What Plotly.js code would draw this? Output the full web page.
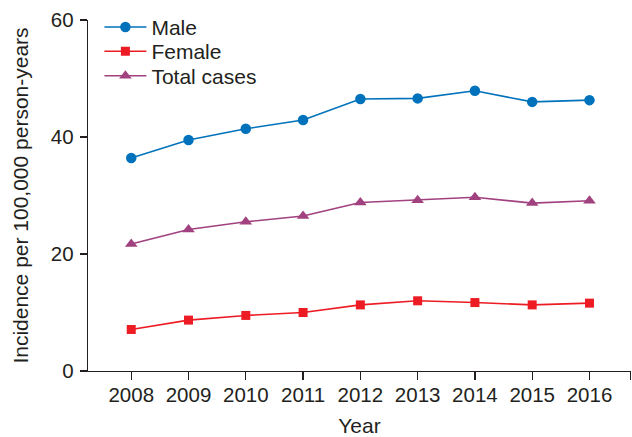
<!DOCTYPE html>
<html>
<head>
<meta charset="utf-8">
<script src="https://cdn.plot.ly/plotly-3.0.1.min.js"></script>
<style>
  html, body { margin: 0; padding: 0; background: #fff; }
  #chart { width: 632px; height: 437px; }
</style>
</head>
<body>
<div id="chart"></div>
<script>
// Incidence per 100,000 person-years by year and sex
const years = [2008, 2009, 2010, 2011, 2012, 2013, 2014, 2015, 2016];
const yearLabels = ['2008', '2009', '2010', '2011', '2012', '2013', '2014', '2015', '2016'];
const male = [36.4, 39.5, 41.4, 42.9, 46.5, 46.6, 47.9, 46.0, 46.3];
const female = [7.1, 8.7, 9.5, 10.0, 11.3, 12.0, 11.7, 11.3, 11.6];
const total = [21.7, 24.2, 25.5, 26.5, 28.8, 29.2, 29.7, 28.7, 29.1];
const seriesNames = ['Male', 'Female', 'Total cases'];
const yTicks = [0, 20, 40, 60];

const ink = '#231F20';
const family = 'Liberation Sans, Arial, sans-serif';
const tickFont = { family: family, size: 20.5, color: ink };
const titleFont = { family: family, size: 21, color: ink };
const legendFont = { family: family, size: 21, color: ink };

const traces = [
  { x: years, y: male, name: seriesNames[0], legend: 'legend', type: 'scatter', mode: 'lines+markers',
    line: { color: '#0072BC', width: 1.6 },
    marker: { symbol: 'circle', size: 10.5, color: '#0072BC' } },
  { x: years, y: female, name: seriesNames[1], legend: 'legend2', type: 'scatter', mode: 'lines+markers',
    line: { color: '#ED1C24', width: 1.6 },
    marker: { symbol: 'square', size: 9, color: '#ED1C24' } },
  { x: years, y: total, name: seriesNames[2], legend: 'legend3', type: 'scatter', mode: 'lines+markers',
    line: { color: '#A1417F', width: 1.6 },
    marker: { symbol: 'triangle-up', size: 11, color: '#A1417F' } }
];

// one legend box per series so the rows sit close together
function legendAt(yCenter) {
  return {
    x: 0.021, xanchor: 'left',
    y: yCenter, yanchor: 'middle',
    bgcolor: 'rgba(0,0,0,0)',
    font: legendFont,
    itemwidth: 42
  };
}

// extra tick closing the right end of the year axis
const xEnd = 2016.72;

const layout = {
  width: 632,
  height: 437,
  margin: { l: 88, r: 1, t: 20, b: 66 },
  paper_bgcolor: '#fff',
  plot_bgcolor: '#fff',
  font: tickFont,
  showlegend: true,
  legend: legendAt(0.979),
  legend2: legendAt(0.910),
  legend3: legendAt(0.840),
  xaxis: {
    range: [2007.245, 2016.725],
    tickmode: 'array',
    tickvals: years.concat([xEnd]),
    ticktext: yearLabels.concat(['']),
    showgrid: false,
    zeroline: false,
    showline: true,
    linecolor: ink,
    linewidth: 1.3,
    ticks: 'outside',
    ticklen: 8,
    tickwidth: 1.3,
    tickcolor: ink,
    ticklabelstandoff: -3,
    tickfont: tickFont,
    title: { text: 'Year', font: titleFont, standoff: 16 }
  },
  yaxis: {
    range: [0, 60],
    tickmode: 'array',
    tickvals: yTicks,
    ticktext: yTicks.map(String),
    showgrid: false,
    zeroline: false,
    showline: true,
    linecolor: ink,
    linewidth: 1.3,
    ticks: 'outside',
    ticklen: 7,
    tickwidth: 1.3,
    tickcolor: ink,
    ticklabelstandoff: 2,
    tickfont: tickFont,
    title: { text: 'Incidence per 100,000 person-years', font: titleFont, standoff: 16 }
  }
};

Plotly.newPlot('chart', traces, layout, { displayModeBar: false, staticPlot: true });
</script>
</body>
</html>
